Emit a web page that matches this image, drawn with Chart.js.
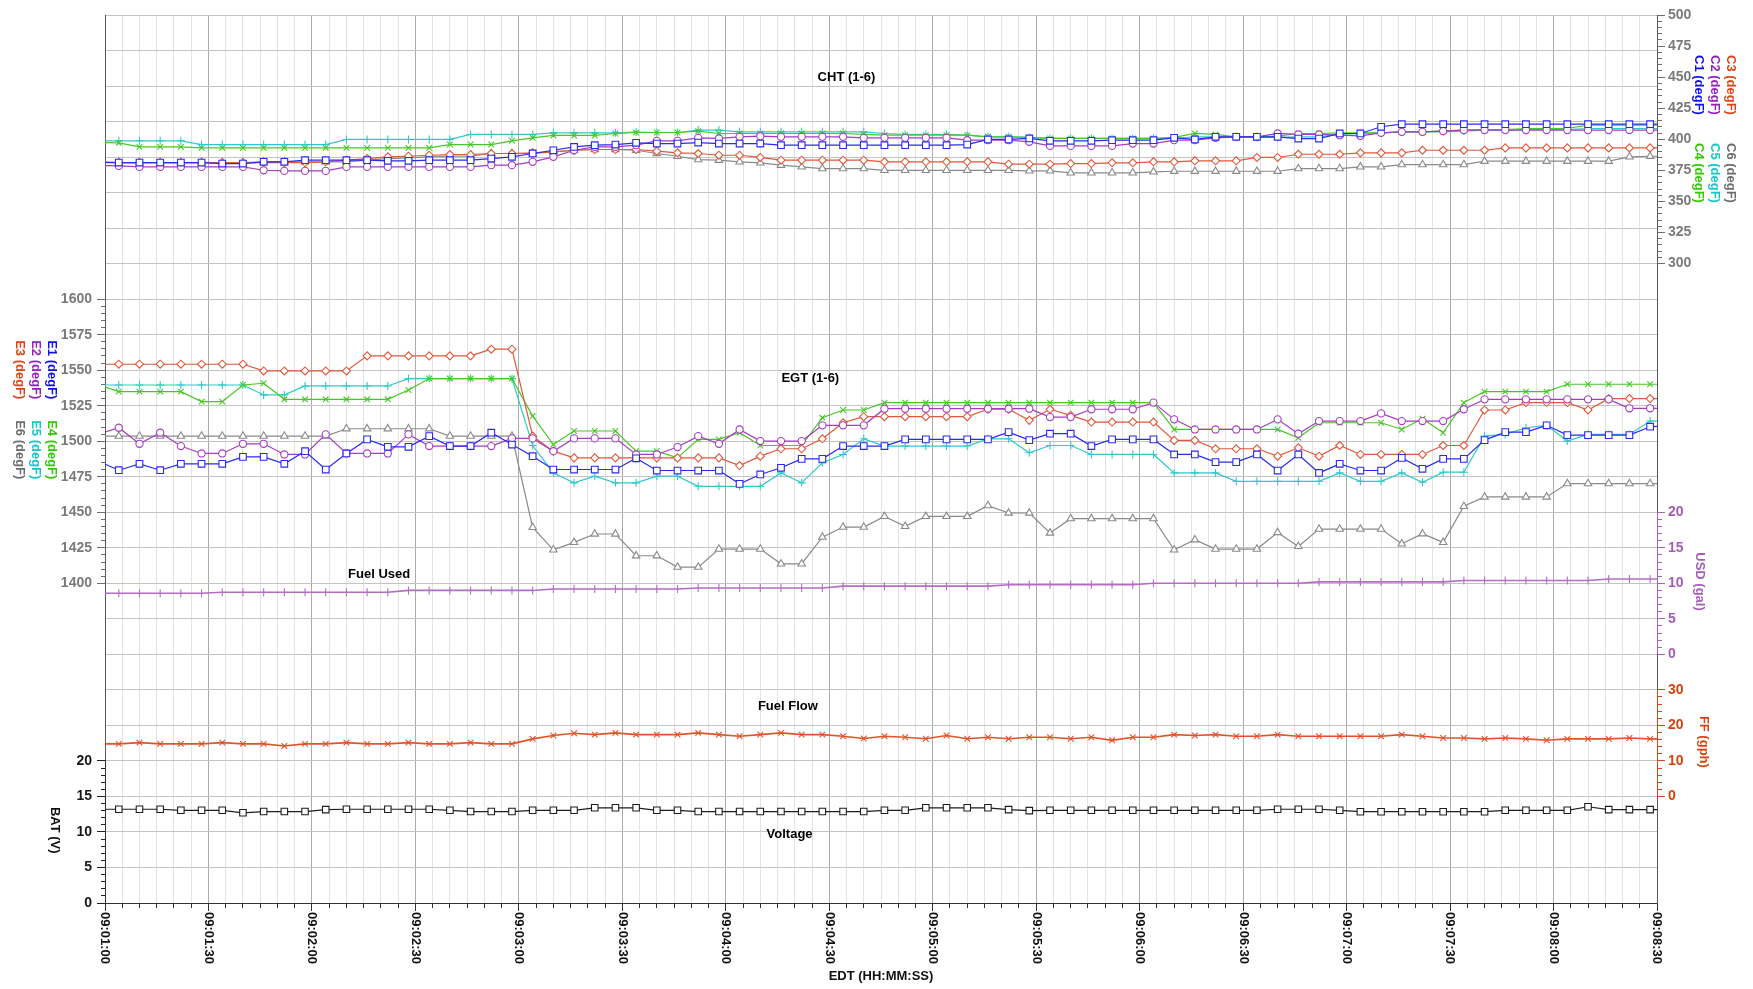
<!DOCTYPE html>
<html lang="en">
<head>
<meta charset="utf-8">
<title>Engine monitor 09:01:00 - 09:08:30</title>
<script src="https://cdn.jsdelivr.net/npm/chart.js@4.4.1/dist/chart.umd.min.js"></script>
<style>
  html, body { margin: 0; padding: 0; background: #ffffff; }
  canvas { display: block; }
</style>
</head>
<body>
<canvas id="engineChart" width="1753" height="989"></canvas>
<script>
// ---------------------------------------------------------------------------
// Engine monitor log, one record every 6 s. The first record is 2 s before
// the plotted window (09:01:00 .. 09:08:30) and the last one 4 s after it,
// so the traces run into both frame edges.
// ---------------------------------------------------------------------------
const FIRST_RECORD_S = -2;          // seconds relative to 09:01:00
const RECORD_INTERVAL_S = 6;

const TIME_TICK_SECONDS = [0, 30, 60, 90, 120, 150, 180, 210, 240, 270, 300, 330, 360, 390, 420, 450];
const TIME_TICK_LABELS = ['09:01:00', '09:01:30', '09:02:00', '09:02:30', '09:03:00', '09:03:30',
  '09:04:00', '09:04:30', '09:05:00', '09:05:30', '09:06:00', '09:06:30', '09:07:00', '09:07:30',
  '09:08:00', '09:08:30'];

// Cylinder head temperatures (degF)
const CHT1 = [
  381.5, 381.3, 381.3, 381.3, 381.3, 381.3, 380.5, 380.5, 381.9, 381.9, 383.2,
  383.2, 383.2, 383.2, 382.7, 382.7, 383.2, 383.2, 383.2, 384.5, 385.9, 388.6,
  391.2, 393.9, 395.3, 395.8, 397.2, 396.6, 396.6, 397.4, 396.6, 396.6, 396.6,
  395.3, 395.3, 395.3, 395.3, 395.3, 395.3, 395.3, 395.3, 395.3, 395.8, 399.9,
  399.9, 400.7, 398.8, 398.8, 398.8, 399.3, 399.3, 399.3, 401.2, 399.9, 402.0,
  402.0, 402.0, 402.0, 400.6, 400.6, 404.7, 404.7, 410.1, 412.2, 412.2, 412.2,
  412.2, 412.2, 412.2, 412.2, 412.2, 412.2, 412.2, 412.2, 412.2, 412.2, 412.2];
const CHT2 = [
  379.0, 378.6, 377.8, 377.8, 377.8, 377.8, 377.8, 377.8, 375.1, 374.6, 374.6,
  374.6, 377.8, 377.8, 377.8, 377.8, 377.8, 377.8, 377.8, 379.2, 379.2, 381.9,
  385.9, 391.2, 393.9, 393.9, 395.3, 398.8, 398.8, 401.2, 400.7, 402.0, 402.5,
  402.0, 402.0, 402.0, 402.0, 401.2, 401.2, 401.2, 401.2, 401.2, 399.3, 399.3,
  399.3, 398.0, 394.7, 394.7, 394.7, 394.7, 396.6, 396.6, 399.3, 399.3, 401.2,
  402.0, 402.0, 404.7, 403.9, 403.9, 403.3, 402.8, 405.2, 406.0, 406.0, 406.6,
  407.4, 407.4, 407.4, 407.4, 407.4, 407.4, 407.4, 407.4, 407.4, 407.4, 407.4];
const CHT3 = [
  381.5, 381.3, 381.3, 381.3, 381.3, 381.3, 381.3, 381.3, 381.3, 381.3, 381.3,
  381.9, 383.2, 384.5, 385.9, 386.4, 387.2, 387.7, 387.7, 388.6, 388.6, 389.1,
  389.9, 391.2, 391.8, 391.8, 391.8, 390.5, 389.1, 388.6, 387.2, 387.2, 385.4,
  383.2, 383.2, 383.2, 383.2, 383.2, 381.9, 381.9, 381.9, 381.9, 381.9, 381.9,
  380.0, 380.0, 380.0, 380.5, 380.5, 381.1, 381.1, 381.9, 381.9, 382.7, 382.7,
  382.7, 385.4, 385.4, 388.0, 388.0, 388.0, 389.1, 389.1, 389.1, 391.2, 391.2,
  391.2, 391.2, 393.1, 393.1, 393.1, 393.1, 393.1, 393.1, 393.1, 393.1, 393.1];
const CHT4 = [
  397.5, 397.2, 393.9, 393.9, 393.9, 393.1, 393.1, 393.1, 393.1, 393.1, 393.1,
  393.1, 393.1, 393.1, 393.1, 393.1, 393.1, 395.8, 395.8, 395.8, 398.8, 401.2,
  403.1, 403.1, 403.1, 404.7, 405.5, 405.5, 405.5, 406.6, 404.7, 404.7, 404.7,
  404.7, 404.7, 404.7, 404.7, 403.9, 403.3, 403.3, 403.3, 403.3, 403.3, 402.0,
  402.0, 401.5, 400.7, 400.7, 400.7, 400.7, 400.7, 400.7, 401.5, 404.7, 403.9,
  402.0, 402.0, 402.5, 404.7, 404.7, 405.2, 405.2, 405.2, 406.0, 406.0, 406.8,
  407.4, 407.9, 407.9, 408.7, 408.7, 408.7, 411.4, 411.4, 411.4, 411.4, 411.4];
const CHT5 = [
  398.8, 398.8, 398.8, 398.8, 398.8, 395.8, 395.8, 395.8, 395.8, 395.8, 395.8,
  395.8, 399.9, 399.9, 399.9, 399.9, 399.9, 399.9, 403.9, 403.9, 403.9, 403.9,
  405.2, 405.2, 405.2, 405.2, 405.8, 405.5, 405.5, 407.4, 407.4, 406.0, 406.0,
  406.0, 406.0, 406.0, 406.0, 406.0, 404.7, 403.9, 403.9, 403.9, 403.3, 402.0,
  402.0, 401.5, 400.7, 400.7, 400.7, 400.7, 400.7, 400.7, 400.7, 402.0, 402.0,
  402.0, 401.5, 401.5, 402.0, 402.0, 403.9, 404.7, 405.2, 406.0, 406.0, 406.0,
  406.6, 407.4, 407.4, 407.9, 407.9, 407.9, 408.7, 408.7, 408.7, 408.7, 408.7];
const CHT6 = [
  381.5, 381.3, 381.3, 381.3, 381.3, 381.3, 381.3, 381.3, 381.9, 381.9, 381.9,
  381.9, 381.9, 383.2, 384.5, 385.1, 385.9, 386.4, 386.4, 388.6, 388.6, 388.6,
  389.9, 391.2, 391.8, 391.8, 391.2, 388.6, 386.4, 383.7, 383.2, 381.9, 381.1,
  379.2, 377.8, 376.5, 376.5, 376.5, 375.1, 375.1, 375.1, 375.1, 375.1, 375.1,
  375.1, 374.6, 374.6, 373.0, 373.0, 373.0, 373.0, 373.8, 374.3, 374.3, 374.3,
  374.3, 374.3, 374.3, 376.5, 376.5, 376.5, 377.8, 377.8, 379.7, 379.7, 379.7,
  379.7, 382.4, 382.4, 382.4, 382.4, 382.4, 382.4, 382.4, 385.9, 386.4, 386.4];

// Exhaust gas temperatures (degF)
const EGT1 = [
  1486.0, 1479.6, 1484.1, 1479.6, 1484.1, 1484.1, 1484.1, 1489.0, 1489.0, 1484.1, 1493.0,
  1480.1, 1491.4, 1501.3, 1496.1, 1496.1, 1503.6, 1496.6, 1496.6, 1506.0, 1497.7, 1489.5,
  1480.1, 1480.1, 1480.1, 1480.1, 1488.0, 1479.4, 1479.4, 1479.4, 1479.4, 1470.0, 1476.6,
  1481.3, 1487.6, 1487.6, 1496.6, 1496.6, 1496.6, 1501.3, 1501.3, 1501.3, 1501.3, 1501.3,
  1506.4, 1500.8, 1505.3, 1505.3, 1496.6, 1501.3, 1501.3, 1501.3, 1490.7, 1490.7, 1485.3,
  1485.3, 1490.7, 1479.4, 1490.7, 1477.7, 1484.1, 1479.4, 1479.4, 1488.3, 1480.6, 1487.6,
  1487.6, 1500.8, 1506.4, 1506.4, 1511.2, 1504.3, 1504.3, 1504.3, 1504.3, 1510.2, 1511.0];
const EGT2 = [
  1504.8, 1509.5, 1498.2, 1506.0, 1496.6, 1491.4, 1491.4, 1498.2, 1498.2, 1490.7, 1490.7,
  1504.8, 1491.4, 1491.4, 1491.4, 1504.8, 1496.6, 1496.6, 1496.6, 1496.6, 1502.0, 1502.0,
  1493.0, 1502.0, 1502.0, 1502.0, 1490.7, 1490.7, 1495.9, 1503.6, 1498.2, 1508.3, 1500.1,
  1500.1, 1500.1, 1511.2, 1511.2, 1511.2, 1522.9, 1522.9, 1522.9, 1522.9, 1522.9, 1522.9,
  1522.9, 1522.9, 1517.0, 1517.0, 1522.5, 1522.5, 1522.5, 1527.2, 1515.4, 1508.3, 1508.3,
  1508.3, 1508.3, 1515.4, 1505.3, 1514.2, 1514.2, 1514.2, 1519.6, 1514.2, 1514.2, 1514.2,
  1522.5, 1529.5, 1529.5, 1529.5, 1529.5, 1529.5, 1529.5, 1529.5, 1523.2, 1523.2, 1523.2];
const EGT3 = [
  1554.2, 1554.2, 1554.2, 1554.2, 1554.2, 1554.2, 1554.2, 1554.2, 1549.5, 1549.5, 1549.5,
  1549.5, 1549.5, 1560.1, 1560.1, 1560.1, 1560.1, 1560.1, 1560.1, 1564.8, 1564.8, 1503.6,
  1493.0, 1488.3, 1488.3, 1488.3, 1488.3, 1488.3, 1488.3, 1488.3, 1488.3, 1482.9, 1489.5,
  1494.7, 1494.7, 1501.7, 1513.0, 1517.3, 1517.3, 1517.3, 1517.3, 1517.3, 1517.3, 1522.5,
  1522.5, 1514.7, 1522.5, 1518.2, 1513.5, 1513.5, 1513.5, 1513.5, 1500.6, 1500.6, 1494.7,
  1494.7, 1494.7, 1489.5, 1495.4, 1489.5, 1497.0, 1490.7, 1490.7, 1490.7, 1490.7, 1497.0,
  1497.0, 1522.0, 1522.0, 1527.2, 1527.2, 1527.2, 1522.0, 1530.0, 1530.0, 1530.0, 1530.0];
const EGT4 = [
  1540.0, 1534.9, 1534.9, 1534.9, 1534.9, 1527.9, 1527.9, 1539.6, 1540.8, 1529.5, 1529.5,
  1529.5, 1529.5, 1529.5, 1529.5, 1536.1, 1544.1, 1544.1, 1544.1, 1544.1, 1544.1, 1517.7,
  1497.7, 1507.2, 1507.2, 1507.2, 1493.0, 1493.0, 1488.3, 1501.3, 1501.3, 1506.0, 1497.0,
  1497.0, 1497.0, 1516.6, 1522.0, 1522.0, 1527.2, 1527.2, 1527.2, 1527.2, 1527.2, 1527.2,
  1527.2, 1527.2, 1527.2, 1527.2, 1527.2, 1527.2, 1527.2, 1527.2, 1508.3, 1508.3, 1508.3,
  1508.3, 1508.3, 1508.3, 1502.4, 1513.0, 1513.0, 1513.0, 1513.0, 1508.3, 1515.9, 1506.0,
  1527.2, 1534.9, 1534.9, 1534.9, 1534.9, 1540.1, 1540.1, 1540.1, 1540.1, 1540.1, 1540.1];
const EGT5 = [
  1539.6, 1539.6, 1539.6, 1539.6, 1539.6, 1539.6, 1539.6, 1539.6, 1532.6, 1532.6, 1538.9,
  1538.9, 1538.9, 1538.9, 1538.9, 1544.1, 1544.1, 1544.1, 1544.1, 1544.1, 1544.1, 1497.0,
  1477.7, 1470.7, 1475.4, 1470.7, 1470.7, 1475.4, 1475.4, 1468.3, 1468.3, 1468.3, 1468.3,
  1477.7, 1470.7, 1484.8, 1490.7, 1501.7, 1496.6, 1496.6, 1496.6, 1496.6, 1496.6, 1501.7,
  1501.7, 1491.9, 1497.0, 1497.0, 1490.7, 1490.7, 1490.7, 1490.7, 1477.7, 1477.7, 1477.7,
  1471.8, 1471.8, 1471.8, 1471.8, 1471.8, 1477.7, 1471.8, 1471.8, 1477.7, 1471.1, 1478.2,
  1478.2, 1503.6, 1504.8, 1509.5, 1511.2, 1500.1, 1504.8, 1504.8, 1504.8, 1514.2, 1514.2];
const EGT6 = [
  1503.6, 1503.6, 1503.6, 1503.6, 1503.6, 1503.6, 1503.6, 1503.6, 1503.6, 1503.6, 1503.6,
  1503.6, 1508.8, 1508.8, 1508.8, 1508.8, 1508.8, 1503.6, 1503.6, 1503.6, 1503.6, 1439.4,
  1423.6, 1428.8, 1434.7, 1434.7, 1419.4, 1419.4, 1411.4, 1411.4, 1424.1, 1424.1, 1424.1,
  1413.7, 1413.7, 1432.5, 1439.6, 1439.6, 1447.1, 1440.1, 1447.1, 1447.1, 1447.1, 1454.7,
  1449.5, 1449.5, 1435.4, 1445.5, 1445.5, 1445.5, 1445.5, 1445.5, 1423.6, 1430.7, 1424.1,
  1424.1, 1424.1, 1435.8, 1426.0, 1438.2, 1438.2, 1438.2, 1438.2, 1427.8, 1434.9, 1428.8,
  1454.2, 1460.8, 1460.8, 1460.8, 1460.8, 1470.2, 1470.2, 1470.2, 1470.2, 1470.2, 1470.2];

// Fuel used (gal)
const FUEL_USED = [
  8.6, 8.6, 8.6, 8.6, 8.6, 8.6, 8.75, 8.75, 8.75, 8.75, 8.75,
  8.75, 8.75, 8.75, 8.75, 9.0, 9.0, 9.0, 9.0, 9.0, 9.0, 9.0,
  9.2, 9.2, 9.2, 9.2, 9.2, 9.2, 9.2, 9.35, 9.35, 9.35, 9.35,
  9.35, 9.35, 9.35, 9.6, 9.6, 9.6, 9.6, 9.6, 9.6, 9.6, 9.6,
  9.8, 9.8, 9.8, 9.8, 9.8, 9.8, 9.8, 10.0, 10.0, 10.0, 10.0,
  10.0, 10.0, 10.0, 10.0, 10.2, 10.2, 10.2, 10.2, 10.2, 10.2, 10.2,
  10.4, 10.4, 10.4, 10.4, 10.4, 10.4, 10.4, 10.6, 10.6, 10.6, 10.6];

// Fuel flow (gph)
const FUEL_FLOW = [
  14.8, 14.8, 15.15, 14.8, 14.8, 14.8, 15.15, 14.8, 14.8, 14.2, 14.8,
  14.8, 15.15, 14.8, 14.8, 15.15, 14.8, 14.8, 15.15, 14.8, 14.8, 16.2,
  17.15, 17.8, 17.4, 17.9, 17.4, 17.4, 17.4, 17.9, 17.4, 16.95, 17.4,
  17.9, 17.4, 17.4, 16.95, 16.3, 16.95, 16.65, 16.25, 17.15, 16.25, 16.65,
  16.25, 16.65, 16.65, 16.25, 16.65, 15.8, 16.65, 16.65, 17.4, 17.15, 17.4,
  16.95, 16.95, 17.4, 16.95, 16.95, 16.95, 16.95, 16.95, 17.4, 16.95, 16.45,
  16.45, 16.2, 16.45, 16.2, 15.8, 16.2, 16.2, 16.2, 16.45, 16.2, 16.2];

// Bus voltage (V)
const VOLTAGE = [
  13.2, 13.2, 13.2, 13.2, 13.05, 13.05, 13.05, 12.7, 12.87, 12.87, 12.87,
  13.15, 13.2, 13.2, 13.2, 13.2, 13.2, 13.05, 12.87, 12.87, 12.87, 13.05,
  13.05, 13.05, 13.4, 13.4, 13.4, 13.05, 13.05, 12.87, 12.87, 12.87, 12.87,
  12.87, 12.87, 12.87, 12.87, 12.87, 13.05, 13.05, 13.4, 13.4, 13.4, 13.4,
  13.15, 13.0, 13.05, 13.05, 13.05, 13.05, 13.05, 13.05, 13.05, 13.05, 13.05,
  13.05, 13.05, 13.2, 13.2, 13.2, 13.05, 12.85, 12.85, 12.85, 12.85, 12.85,
  12.85, 12.85, 13.05, 13.05, 13.05, 13.05, 13.55, 13.15, 13.15, 13.15, 13.15];

const RECORD_SECONDS = EGT1.map((_, i) => FIRST_RECORD_S + i * RECORD_INTERVAL_S);
const LAST_RECORD = RECORD_SECONDS.length - 1;

// ---------------------------------------------------------------------------
// Look
// ---------------------------------------------------------------------------
const FONT_FAMILY = '"Liberation Sans", Arial, Helvetica, sans-serif';
Chart.defaults.font.family = FONT_FAMILY;

const LINE = { c1: '#2a2af2', c2: '#a53cc2', c3: '#e2583a', c4: '#46c824', c5: '#30c9c9', c6: '#8a8a8a',
  usd: '#b46cc4', ff: '#e2532a', bat: '#1e1e1e' };
const CAPTION = { c1: '#1010e8', c2: '#9420c0', c3: '#dc4418', c4: '#34c800', c5: '#14c6c6', c6: '#6c6c6c',
  usd: '#a55db8', ff: '#d7420f', bat: '#111111' };

const FRAME = '#5a5a5a';
const GRID_H = '#c3c3c3';
const CLEAR = 'rgba(0,0,0,0)';
const TICK_LEN = 8;
const MINOR_LEN = 4;
const LEFT_W = 105;
const RIGHT_W = 96;
const X_AXIS_H = 86;

const isMultiple = (v, step) => Math.abs(v / step - Math.round(v / step)) < 1e-6;

// A value axis that occupies one band of a stacked side.
function valueAxis(o) {
  const left = o.side === 'left';
  return {
    type: 'linear', position: o.side, stack: o.side + 'Stack',
    stackWeight: o.stackWeight, weight: o.weight,
    min: o.min, max: o.max,
    border: { display: true, color: o.borderColor, width: 1 },
    grid: {
      drawOnChartArea: o.grid,
      color: ctx => isMultiple(ctx.tick.value, o.major) ? GRID_H : CLEAR,
      drawTicks: true, tickLength: TICK_LEN, tickWidth: 1, tickColor: o.tickColor,
      tickBorderDash: ctx => isMultiple(ctx.tick.value, o.major) ? [] :
        (left ? [0, TICK_LEN - MINOR_LEN, MINOR_LEN, 0] : [MINOR_LEN, TICK_LEN])
    },
    ticks: {
      stepSize: o.minor, autoSkip: false, padding: left ? 5 : 3,
      color: o.labelColor, font: { size: 14, weight: 'bold' },
      callback: v => isMultiple(v, o.major) ? String(v) : ''
    },
    afterFit: s => { s.width = left ? LEFT_W : RIGHT_W; }
  };
}

// An empty band that only carries the frame line (and, on the left, the grid).
function spacerAxis(side, stackWeight, weight, withGrid) {
  return {
    type: 'linear', position: side, stack: side + 'Stack',
    stackWeight, weight, min: 0, max: stackWeight,
    border: { display: true, color: FRAME, width: 1 },
    grid: { drawOnChartArea: withGrid, drawTicks: false, color: GRID_H },
    ticks: { display: false, stepSize: 1, autoSkip: false },
    afterFit: s => { s.width = side === 'left' ? LEFT_W : RIGHT_W; }
  };
}

const markerRadius = r => ctx => (ctx.dataIndex === 0 || ctx.dataIndex === LAST_RECORD) ? 0 : r;

function series(label, values, axis, color, pointStyle, radius, hollow, extra) {
  return Object.assign({
    label, yAxisID: axis, xAxisID: 'x',
    data: values.map((v, i) => ({ x: RECORD_SECONDS[i], y: v })),
    borderColor: color, borderWidth: 1.2, tension: 0, fill: false,
    pointStyle, pointRadius: markerRadius(radius), pointHoverRadius: markerRadius(radius),
    pointBorderColor: color, pointBorderWidth: 1.1,
    pointBackgroundColor: hollow ? '#ffffff' : color
  }, extra || {});
}

const datasets = [
  series('C1 (degF)', CHT1, 'yCHT', LINE.c1, 'rect', 4.7, true),
  series('C2 (degF)', CHT2, 'yCHT', LINE.c2, 'circle', 3.6, true),
  series('C3 (degF)', CHT3, 'yCHT', LINE.c3, 'rectRot', 4, true),
  series('C4 (degF)', CHT4, 'yCHT', LINE.c4, 'crossRot', 4, false),
  series('C5 (degF)', CHT5, 'yCHT', LINE.c5, 'cross', 4, false),
  series('C6 (degF)', CHT6, 'yCHT', LINE.c6, 'triangle', 4.3, true),
  series('E1 (degF)', EGT1, 'yEGT', LINE.c1, 'rect', 4.7, true),
  series('E2 (degF)', EGT2, 'yEGT', LINE.c2, 'circle', 3.6, true),
  series('E3 (degF)', EGT3, 'yEGT', LINE.c3, 'rectRot', 4, true),
  series('E4 (degF)', EGT4, 'yEGT', LINE.c4, 'crossRot', 4, false),
  series('E5 (degF)', EGT5, 'yEGT', LINE.c5, 'cross', 4, false),
  series('E6 (degF)', EGT6, 'yEGT', LINE.c6, 'triangle', 4.3, true),
  series('USD (gal)', FUEL_USED, 'yUSD', LINE.usd, 'line', 4, false, { pointRotation: 90, borderWidth: 1.6 }),
  series('FF (gph)', FUEL_FLOW, 'yFF', LINE.ff, 'crossRot', 4, false, { borderWidth: 1.6 }),
  series('BAT (V)', VOLTAGE, 'yBAT', LINE.bat, 'rect', 4.6, true)
];

// Band heights are in grid rows (25 rows of 25 degF EGT each over the plot).
const scales = {
  x: {
    type: 'linear', position: 'bottom', min: 0, max: 450,
    border: { display: true, color: '#333333', width: 1 },
    grid: {
      color: ctx => isMultiple(ctx.tick.value, 30) ? '#ababab' : '#e3e3e3',
      tickColor: '#333333', tickLength: TICK_LEN,
      tickBorderDash: ctx => isMultiple(ctx.tick.value, 30) ? [] : [MINOR_LEN, TICK_LEN]
    },
    ticks: { display: false, stepSize: 5, autoSkip: false },
    afterFit: s => { s.height = X_AXIS_H; }
  },
  // left side, top to bottom
  yTop: spacerAxis('left', 8, 4, true),
  yEGT: valueAxis({ side: 'left', stackWeight: 8, weight: 3, min: 1400, max: 1600, minor: 5, major: 25,
    grid: true, borderColor: FRAME, tickColor: '#6e6e6e', labelColor: '#7a7a7a' }),
  yMid: spacerAxis('left', 5, 2, true),
  yBAT: valueAxis({ side: 'left', stackWeight: 4, weight: 1, min: 0, max: 20, minor: 1, major: 5,
    grid: true, borderColor: '#333333', tickColor: '#222222', labelColor: '#161616' }),
  // right side, top to bottom
  yCHT: valueAxis({ side: 'right', stackWeight: 7, weight: 1, min: 300, max: 500, minor: 5, major: 25,
    grid: false, borderColor: FRAME, tickColor: '#6e6e6e', labelColor: '#7a7a7a' }),
  yGapA: spacerAxis('right', 7, 2, false),
  yUSD: valueAxis({ side: 'right', stackWeight: 4, weight: 3, min: 0, max: 20, minor: 1, major: 5,
    grid: false, borderColor: '#a862b8', tickColor: '#a862b8', labelColor: CAPTION.usd }),
  yGapB: spacerAxis('right', 1, 4, false),
  yFF: valueAxis({ side: 'right', stackWeight: 3, weight: 5, min: 0, max: 30, minor: 2, major: 10,
    grid: false, borderColor: '#d9461a', tickColor: '#d9461a', labelColor: CAPTION.ff }),
  yGapC: spacerAxis('right', 3, 6, false)
};

// Panel names, placed in the data space of their own panel.
const PANEL_TITLES = [
  { text: 'CHT (1-6)', t: 215, axis: 'yCHT', v: 450 },
  { text: 'EGT (1-6)', t: 204.5, axis: 'yEGT', v: 1544.5 },
  { text: 'Fuel Used', t: 79.5, axis: 'yUSD', v: 11.3 },
  { text: 'Fuel Flow', t: 198, axis: 'yFF', v: 25.4 },
  { text: 'Voltage', t: 198.5, axis: 'yBAT', v: 9.7 }
];

function verticalText(ctx, text, x, y, color) {
  ctx.save();
  ctx.translate(x, y);
  ctx.rotate(Math.PI / 2);
  ctx.fillStyle = color;
  ctx.textAlign = 'left';
  ctx.textBaseline = 'middle';
  ctx.fillText(text, 0, 0);
  ctx.restore();
}

const textLayer = {
  id: 'textLayer',
  afterDraw(chart) {
    const { ctx, chartArea: area, scales: s } = chart;
    ctx.save();

    // time labels, read top to bottom under each 30 s tick
    ctx.font = 'bold 13px ' + FONT_FAMILY;
    TIME_TICK_SECONDS.forEach((t, i) => {
      verticalText(ctx, TIME_TICK_LABELS[i], s.x.getPixelForValue(t), s.x.top + 9, '#111111');
    });

    // x axis title
    ctx.fillStyle = '#111111';
    ctx.textAlign = 'center';
    ctx.textBaseline = 'middle';
    ctx.fillText('EDT (HH:MM:SS)', (area.left + area.right) / 2, s.x.bottom - 13);

    // axis captions
    const egtTop = s.yEGT.top;
    verticalText(ctx, 'E1 (degF)', area.left - 53, egtTop + 41, CAPTION.c1);
    verticalText(ctx, 'E2 (degF)', area.left - 69, egtTop + 41, CAPTION.c2);
    verticalText(ctx, 'E3 (degF)', area.left - 85, egtTop + 41, CAPTION.c3);
    verticalText(ctx, 'E4 (degF)', area.left - 53, egtTop + 121, CAPTION.c4);
    verticalText(ctx, 'E5 (degF)', area.left - 69, egtTop + 121, CAPTION.c5);
    verticalText(ctx, 'E6 (degF)', area.left - 85, egtTop + 121, CAPTION.c6);
    verticalText(ctx, 'BAT (V)', area.left - 50, s.yBAT.top + 46, CAPTION.bat);

    const chtTop = s.yCHT.top;
    verticalText(ctx, 'C1 (degF)', area.right + 42, chtTop + 40, CAPTION.c1);
    verticalText(ctx, 'C2 (degF)', area.right + 58, chtTop + 40, CAPTION.c2);
    verticalText(ctx, 'C3 (degF)', area.right + 74, chtTop + 40, CAPTION.c3);
    verticalText(ctx, 'C4 (degF)', area.right + 42, chtTop + 128, CAPTION.c4);
    verticalText(ctx, 'C5 (degF)', area.right + 58, chtTop + 128, CAPTION.c5);
    verticalText(ctx, 'C6 (degF)', area.right + 74, chtTop + 128, CAPTION.c6);
    verticalText(ctx, 'USD (gal)', area.right + 43, s.yUSD.top + 40, CAPTION.usd);
    verticalText(ctx, 'FF (gph)', area.right + 47, s.yFF.top + 26, CAPTION.ff);

    // panel names
    ctx.fillStyle = '#000000';
    ctx.textAlign = 'center';
    ctx.textBaseline = 'middle';
    PANEL_TITLES.forEach(p => {
      ctx.fillText(p.text, s.x.getPixelForValue(p.t), s[p.axis].getPixelForValue(p.v));
    });
    ctx.restore();
  }
};

const whiteBackground = {
  id: 'whiteBackground',
  beforeDraw(chart) {
    const { ctx, width, height } = chart;
    ctx.save();
    ctx.fillStyle = '#ffffff';
    ctx.fillRect(0, 0, width, height);
    ctx.restore();
  }
};

new Chart(document.getElementById('engineChart'), {
  type: 'line',
  data: { datasets },
  options: {
    responsive: false,
    devicePixelRatio: 1,
    animation: false,
    events: [],
    layout: { padding: { top: 15, right: 0, bottom: 0, left: 0 } },
    plugins: { legend: { display: false }, tooltip: { enabled: false }, title: { display: false } },
    scales
  },
  plugins: [whiteBackground, textLayer]
});
</script>
</body>
</html>
